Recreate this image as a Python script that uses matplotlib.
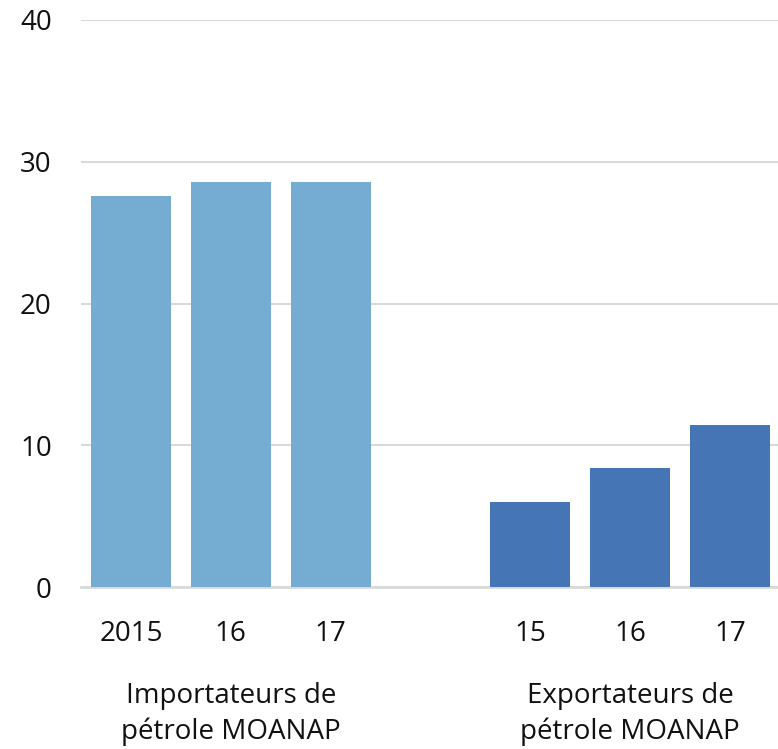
import matplotlib.pyplot as plt
from matplotlib.transforms import blended_transform_factory

# data
years_imp = ['2015', '16', '17']
years_exp = ['15', '16', '17']
importateurs = [27.6, 28.6, 28.6]
exportateurs = [6.0, 8.4, 11.4]
groupes = ['Importateurs de\npétrole MOANAP', 'Exportateurs de\npétrole MOANAP']

plt.rcParams['font.family'] = ['Open Sans', 'DejaVu Sans']

fig = plt.figure(figsize=(7.78, 7.49), dpi=100)
ax = fig.add_axes([81 / 778, 1 - 587 / 749, 699 / 778, 567 / 749])

x_imp = [0, 1, 2]
x_exp = [4, 5, 6]
ax.bar(x_imp, importateurs, width=0.8, color='#74acd2', zorder=3)
ax.bar(x_exp, exportateurs, width=0.8, color='#4575b5', zorder=3)

ax.set_xlim(-0.5, 6.5)
ax.set_ylim(0, 40)
ax.set_yticks([0, 10, 20, 30, 40])
ax.set_xticks(x_imp + x_exp)
ax.set_xticklabels(years_imp + years_exp)
ax.tick_params(axis='both', length=0, labelsize=20, colors='#111111')
ax.tick_params(axis='y', pad=21)
ax.tick_params(axis='x', pad=24)

ax.grid(axis='y', color='#d9d9d9', linewidth=1.5, zorder=0)
for s in ['top', 'right', 'left']:
    ax.spines[s].set_visible(False)
ax.spines['bottom'].set_color('#d9d9d9')
ax.spines['bottom'].set_linewidth(2)

trans = blended_transform_factory(ax.transData, fig.transFigure)
for xc, lab in zip([1, 5], groupes):
    ax.text(xc, 1 - 714 / 749, lab, transform=trans, ha='center', va='center',
            fontsize=20, color='#111111', linespacing=1.35)

fig.savefig('out.png', dpi=100)
